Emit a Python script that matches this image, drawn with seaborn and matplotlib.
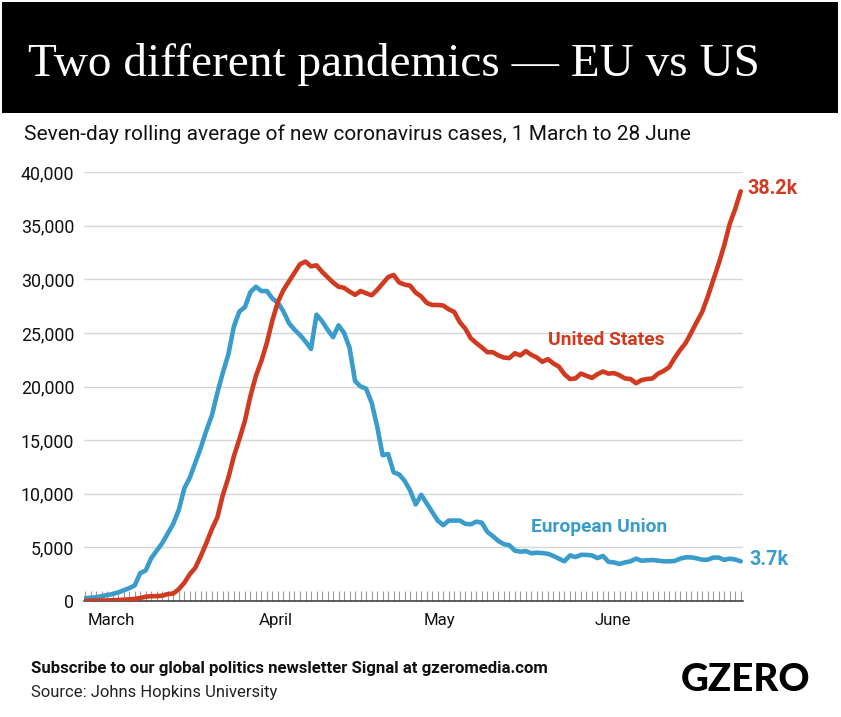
import pandas as pd
import seaborn as sns
import matplotlib
matplotlib.use("Agg")
import matplotlib.pyplot as plt
from matplotlib.patches import Rectangle
from matplotlib.ticker import FuncFormatter

W, H = 841, 717

eu_cases = [250, 300, 350, 450, 550, 650, 800, 1000, 1200, 1450,
            2600, 2850, 4000, 4700, 5400, 6300, 7200, 8500,
            10500, 11500, 12900, 14300, 15900, 17300, 19400, 21300, 23000, 25600,
            27000, 27400, 28800, 29300, 28900, 28900, 28200, 27800, 27000, 25900,
            25300, 24800, 24200, 23500, 26700, 26100, 25300, 24600, 25700, 25000,
            23600, 20500, 20000, 19800, 18500, 16300, 13600, 13700, 12000, 11800,
            11200, 10300, 9000, 9900, 9100, 8300, 7500, 7070, 7500, 7500,
            7500, 7200, 7150, 7400, 7300, 6450, 6050, 5600, 5300, 5200,
            4700, 4600, 4650, 4450, 4500, 4470, 4400, 4200, 3950, 3700,
            4250, 4100, 4300, 4300, 4250, 4000, 4200, 3650, 3600, 3450,
            3600, 3700, 3950, 3750, 3800, 3820, 3770, 3700, 3700, 3730,
            3950, 4070, 4070, 3980, 3850, 3850, 4050, 4050, 3830, 3950, 3870, 3700]

us_cases = [20, 20, 30, 40, 50, 70, 90, 120, 150, 200,
            280, 400, 450, 450, 500, 650, 700, 1100, 1700, 2500,
            3100, 4200, 5400, 6700, 7800, 9900, 11500, 13500, 15100, 16800,
            19100, 21000, 22400, 24100, 26200, 27900, 29000, 29800, 30600, 31400,
            31650, 31200, 31300, 30700, 30200, 29700, 29300, 29200, 28850, 28550,
            28900, 28700, 28500, 29000, 29600, 30200, 30400, 29700, 29500, 29400,
            28750, 28400, 27800, 27600, 27600, 27550, 27200, 26950, 26000, 25400,
            24500, 24050, 23650, 23200, 23200, 22900, 22700, 22650, 23100, 22900,
            23300, 22950, 22700, 22300, 22550, 22150, 21850, 21150, 20700, 20750,
            21200, 21000, 20800, 21150, 21400, 21200, 21250, 21050, 20750, 20700,
            20300, 20600, 20700, 20750, 21200, 21450, 21800, 22650, 23400, 24050,
            25000, 26000, 26950, 28350, 29900, 31450, 33150, 35150, 36550, 38200]

dates = pd.date_range("2020-03-01", periods=120)
month_starts = pd.to_datetime(["2020-03-01", "2020-04-01", "2020-05-01", "2020-06-01"])
month_labels = ["March", "April", "May", "June"]
y_ticks = [0, 5000, 10000, 15000, 20000, 25000, 30000, 35000, 40000]

sns.set_theme(style="white")
plt.rcParams["font.family"] = ["Roboto", "DejaVu Sans"]

df = pd.DataFrame({"date": list(dates) * 2,
                   "cases": eu_cases + us_cases,
                   "region": ["European Union"] * 120 + ["United States"] * 120})

fig = plt.figure(figsize=(W / 100, H / 100), dpi=100, facecolor="white")
fig.add_artist(Rectangle((2 / W, 1 - 113 / H), 836 / W, 111 / H, transform=fig.transFigure,
                         facecolor="black", edgecolor="none"))
ax = fig.add_axes([84 / W, 1 - 601 / H, 659 / W, 429 / H])

RED, BLUE = "#D03A20", "#3A9CCB"
sns.lineplot(data=df, x="date", y="cases", hue="region", palette={"European Union": BLUE, "United States": RED},
             linewidth=3.3, legend=False, ax=ax, solid_capstyle="round", solid_joinstyle="round", zorder=5)

ax.set_ylim(0, 40000)
ax.set_xlim(dates[0] - pd.Timedelta(hours=5), dates[-1] + pd.Timedelta(hours=10))
ax.set_xlabel("")
ax.set_ylabel("")
for s in ["top", "left", "right"]:
    ax.spines[s].set_visible(False)
ax.spines["bottom"].set_color("#333333")
ax.spines["bottom"].set_linewidth(1.1)
ax.set_yticks(y_ticks)
ax.yaxis.set_major_formatter(FuncFormatter(lambda v, _: f"{int(v):,}"))
ax.tick_params(axis="y", length=0, pad=7, labelsize=12.8, labelcolor="#111111")
ax.grid(axis="y", color="#D6D6D6", linewidth=1)
ax.set_axisbelow(True)

ax.set_xticks(dates)
ax.set_xticklabels([])
ax.tick_params(axis="x", bottom=True, direction="in", length=7.5, width=0.8, color="#9A9A9A")
for d, m in zip(month_starts, month_labels):
    ax.annotate(m, xy=(d, 0), xycoords=("data", "axes fraction"), xytext=(2, -8.5), textcoords="offset points",
                ha="left", va="top", fontsize=12.1, color="#111111")

ax.annotate("United States", xy=(dates[84], 24300), color=RED, fontsize=13.9, fontweight="bold",
            ha="left", va="center", xytext=(0, 0), textcoords="offset points")
ax.annotate("European Union", xy=(dates[81], 6900), color=BLUE, fontsize=13.8, fontweight="bold",
            ha="left", va="center", xytext=(0, 0), textcoords="offset points")
ax.annotate("38.2k", xy=(dates[-1], 38200), xytext=(5, 2), textcoords="offset points", color=RED,
            fontsize=14.2, fontweight="bold", ha="left", va="center", annotation_clip=False)
ax.annotate("3.7k", xy=(dates[-1], 3700), xytext=(6, 1), textcoords="offset points", color=BLUE,
            fontsize=14.2, fontweight="bold", ha="left", va="center", annotation_clip=False)


def ftext(x, y, s, **kw):
    fig.text(x / W, 1 - y / H, s, va="center", **kw)


ftext(28, 65, "Two different pandemics — EU vs US", color="white", fontsize=34, family="Liberation Serif")
ftext(24, 134, "Seven-day rolling average of new coronavirus cases, 1 March to 28 June", color="#111111", fontsize=15)
ftext(31, 669, "Subscribe to our global politics newsletter Signal at gzeromedia.com", color="#111111",
      fontsize=12.05, fontweight="bold")
ftext(31, 692, "Source: Johns Hopkins University", color="#222222", fontsize=12)
ftext(681, 680, "GZERO", color="black", fontsize=27.7, fontweight="black", family="Lato")

fig.savefig("out.png", dpi=100)
